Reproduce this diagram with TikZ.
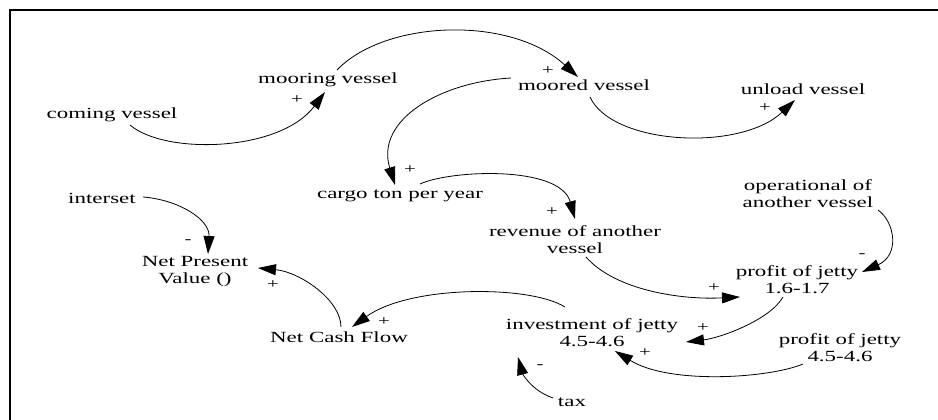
\documentclass[tikz,border=0pt]{standalone}
\usepackage{fontspec}
\setmainfont{Liberation Serif}[FakeStretch=1.48]
\usetikzlibrary{arrows.meta,calc}
\begin{document}
\begin{tikzpicture}[x=1pt,y=-1pt,
  lbl/.style={font=\fontsize{15.5}{17}\selectfont, align=center, inner sep=0pt},
  one/.style={lbl, text height=11pt, text depth=3.5pt},
  pol/.style={font=\fontsize{14}{15}\selectfont, inner sep=0pt},
  link/.style={line width=0.8pt, -{Triangle[length=18pt,width=11pt]}}]
\useasboundingbox (0,0) rectangle (938,420);
\draw[line width=2pt] (938,10) -- (10,10) -- (10,420);

% variables
\node[one] (coming)   at (112,115) {coming vessel};
\node[one] (mooring)  at (328,80)  {mooring vessel};
\node[one] (moored)   at (584,87)  {moored vessel};
\node[one] (unload)   at (803,91)  {unload vessel};
\node[one] (cargo)    at (400,195) {cargo ton per year};
\node[one] (interset) at (102,200) {interset};
\node[lbl] (npv)      at (195,272) {Net Present\\Value ()};
\node[one] (ncf)      at (339,339) {Net Cash Flow};
\node[lbl] (revenue)  at (575,240) {revenue of another\\vessel};
\node[lbl] (oper)     at (808,194) {operational of\\another vessel};
\node[lbl] (pj17)     at (797,280) {profit of jetty\\1.6-1.7};
\node[lbl] (invest)   at (592,333) {investment of jetty\\4.5-4.6};
\node[lbl] (pj46)     at (840,348) {profit of jetty\\4.5-4.6};
\node[one] (tax)      at (572,403) {tax};

% links
\draw[link] ($(coming)+(18,10)$) .. controls (165,155) and (280,152) .. ($(mooring)+(-3,12)$);
\draw[link] ($(mooring)+(9,-10)$) .. controls (385,20) and (510,15) .. ($(moored)+(-6,-10)$);
\draw[link] ($(moored)+(-73,-9)$) .. controls (440,82) and (375,120) .. ($(cargo)+(-5,-10)$);
\draw[link] ($(moored)+(6,10)$) .. controls (612,145) and (740,152) .. ($(unload)+(-8,9)$);
\draw[link] ($(cargo)+(20,-11)$) .. controls (450,170) and (560,165) .. ($(revenue)+(0,-21)$);
\draw[link] ($(oper)+(70,16)$) .. controls (895,222) and (900,255) .. ($(pj17)+(65,-8)$);
\draw[link] ($(revenue)+(11,17)$) .. controls (615,290) and (680,300) .. ($(pj17)+(-57,17)$);
\draw[link] ($(pj17)+(-14,17)$) .. controls (770,320) and (720,338) .. ($(invest)+(94,9)$);
\draw[link] ($(pj46)+(-37,16)$) .. controls (770,378) and (670,385) .. ($(invest)+(23,18)$);
\draw[link] ($(tax)+(-19,-5)$) .. controls (530,390) and (522,372) .. ($(invest)+(-74,24)$);
\draw[link] ($(invest)+(-27,-26)$) .. controls (530,285) and (410,285) .. ($(ncf)+(13,-12)$);
\draw[link] ($(ncf)+(2,-12)$) .. controls (341,300) and (300,272) .. ($(npv)+(63,-4)$);
\draw[link] ($(interset)+(41,-3)$) .. controls (180,200) and (210,220) .. ($(npv)+(13,-18)$);

% polarities
\node[pol] (p1)  at (297,100) {+};
\node[pol] (p2)  at (548,71)  {+};
\node[pol] (p3)  at (410,170) {+};
\node[pol] (p4)  at (765,108) {+};
\node[pol] (p5)  at (552,212) {+};
\node[pol] (p6)  at (862,256) {-};
\node[pol] (p7)  at (714,288) {+};
\node[pol] (p8)  at (703,328) {+};
\node[pol] (p9)  at (645,353) {+};
\node[pol] (p10) at (540,367) {-};
\node[pol] (p11) at (384,322) {+};
\node[pol] (p12) at (273,285) {+};
\node[pol] (p13) at (188,242) {-};
\end{tikzpicture}
\end{document}
